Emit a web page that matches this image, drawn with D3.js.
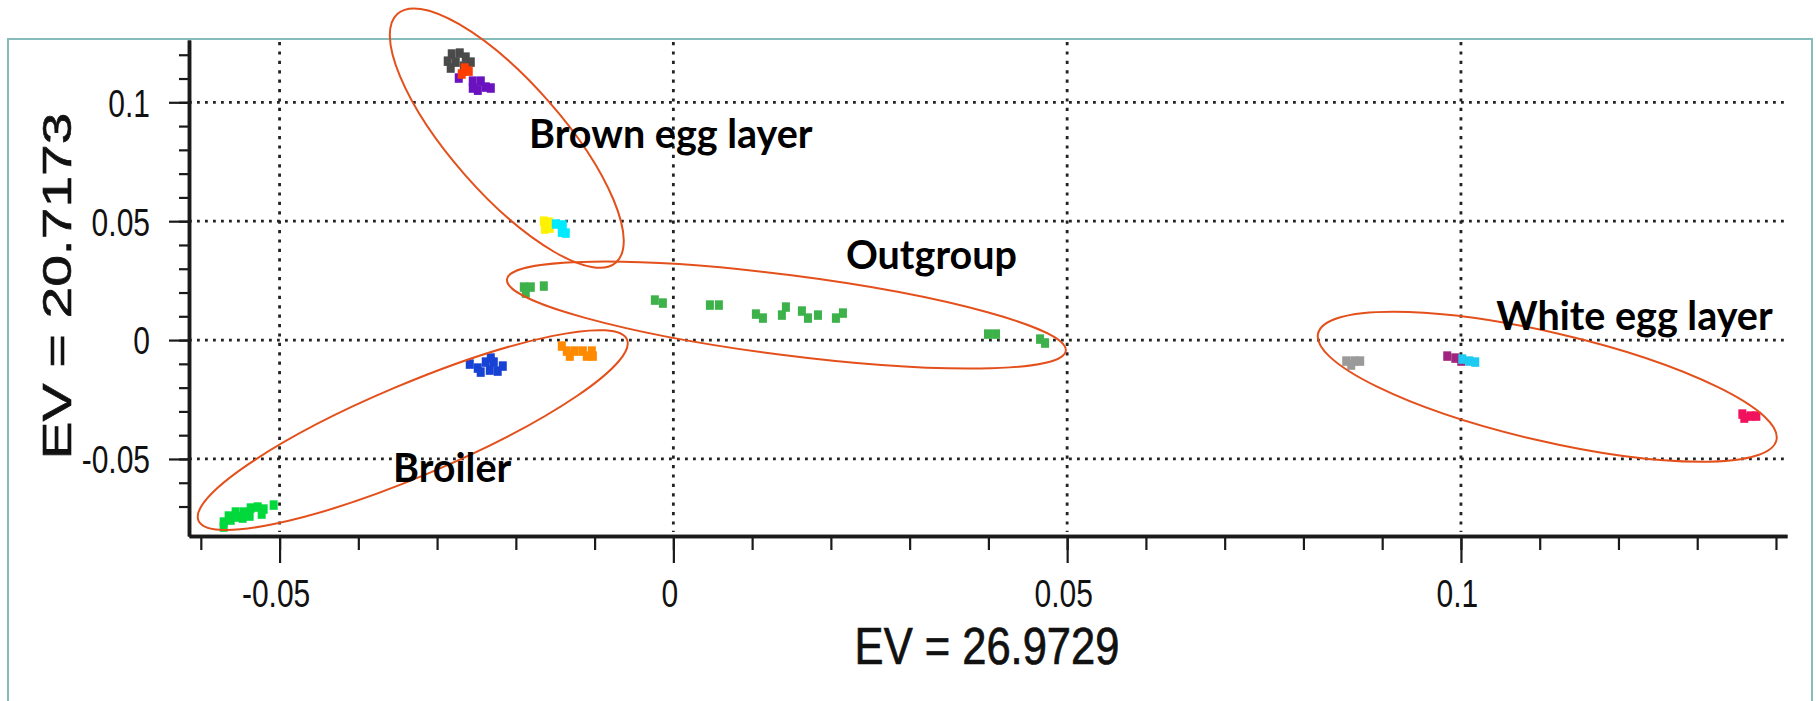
<!DOCTYPE html>
<html>
<head>
<meta charset="utf-8">
<script src="https://cdn.jsdelivr.net/npm/d3@7"></script>
<style>
  body { margin: 0; background: #fff; }
  svg { display: block; }
  .tick-label { font-family: "Liberation Sans", Arial, sans-serif; font-size: 30px; fill: #111; }
  .axis-title { font-family: "Liberation Sans", Arial, sans-serif; fill: #111; stroke: #111; stroke-width: 0.6px; }
  .group-label { font-family: Lato, "Open Sans", sans-serif; font-weight: 700; font-size: 39.5px; fill: #000; }
</style>
</head>
<body>
<div id="chart"></div>
<script>
// PCA coordinates, one array per colour cluster: [EV1, EV2]
const brownDarkGray = [[-0.02814, 0.1203], [-0.02712, 0.1207], [-0.02636, 0.1190], [-0.02865, 0.1173],
  [-0.02763, 0.1169], [-0.02572, 0.1169], [-0.02827, 0.1144], [-0.02661, 0.1152]];
const brownPurple = [[-0.02725, 0.1102], [-0.02547, 0.1089], [-0.02445, 0.1089], [-0.02382, 0.1064],
  [-0.02318, 0.1060], [-0.02483, 0.1051], [-0.02547, 0.1060]];
const brownRed = [[-0.02649, 0.1144], [-0.02598, 0.1131], [-0.02687, 0.1119]];
const brownYellow = [[-0.01645, 0.0500], [-0.01582, 0.0496], [-0.01632, 0.0467], [-0.01569, 0.0471]];
const brownCyan = [[-0.01493, 0.0488], [-0.01404, 0.0484], [-0.01417, 0.0454], [-0.01366, 0.0450]];
const outgroup = [[-0.01899, 0.02229], [-0.01810, 0.02229], [-0.01874, 0.01976], [-0.01645, 0.02271],
  [-0.00235, 0.01682], [-0.00133, 0.01556], [0.00464, 0.01472], [0.00578, 0.01472],
  [0.01048, 0.01093], [0.01137, 0.00925], [0.01429, 0.01388], [0.01378, 0.01051],
  [0.01632, 0.01220], [0.01709, 0.00925], [0.01836, 0.01051], [0.02064, 0.00925],
  [0.02153, 0.01135], [0.03995, 0.00252], [0.04097, 0.00252], [0.04656, 0.00042], [0.04720, -0.00126]];
const broilerOrange = [[-0.01416, -0.00252], [-0.01353, -0.00463], [-0.01251, -0.00463], [-0.01149, -0.00463],
  [-0.01035, -0.00463], [-0.01315, -0.00673], [-0.01099, -0.00673], [-0.01022, -0.00673]];
const broilerBlue = [[-0.02585, -0.01009], [-0.02484, -0.01177], [-0.02382, -0.00925], [-0.02280, -0.00925],
  [-0.02166, -0.01093], [-0.02331, -0.01262], [-0.02446, -0.01346], [-0.02230, -0.01304], [-0.02318, -0.00757]];
const broilerGreen = [[-0.05710, -0.07654], [-0.05621, -0.07569], [-0.05533, -0.07443], [-0.05647, -0.07401],
  [-0.05558, -0.07233], [-0.05456, -0.07233], [-0.05367, -0.07065], [-0.05278, -0.07023],
  [-0.05202, -0.07107], [-0.05227, -0.07317], [-0.05380, -0.07401], [-0.05469, -0.07485],
  [-0.05710, -0.07864], [-0.05075, -0.06939]];
const whiteGray = [[0.08543, -0.00883], [0.08645, -0.00883], [0.08721, -0.00883], [0.08607, -0.01051]];
const whiteMagenta = [[0.09826, -0.00673], [0.09928, -0.00757], [0.10004, -0.00883]];
const whiteBlue = [[0.10017, -0.00799], [0.10106, -0.00883], [0.10182, -0.00925]];
const whiteCrimson = [[0.13573, -0.03112], [0.13675, -0.03196], [0.13751, -0.03196], [0.13598, -0.03280]];

const clusters = [
  { points: outgroup, color: '#3db24b' },
  { points: brownDarkGray, color: '#4a4a4a' },
  { points: brownPurple, color: '#6a12c0' },
  { points: brownRed, color: '#ff3d00' },
  { points: brownYellow, color: '#fff200' },
  { points: brownCyan, color: '#00eaff' },
  { points: broilerOrange, color: '#ff8a00' },
  { points: broilerBlue, color: '#1742d4' },
  { points: broilerGreen, color: '#00d83c' },
  { points: whiteGray, color: '#9a9a9a' },
  { points: whiteMagenta, color: '#a0257e' },
  { points: whiteBlue, color: '#1ccaf2' },
  { points: whiteCrimson, color: '#f0125c' }
];

// tick values
const xMajor = [-0.05, 0, 0.05, 0.1];
const yMajor = [-0.05, 0, 0.05, 0.1];
const xMinor = [-0.06, -0.05, -0.04, -0.03, -0.02, -0.01, 0, 0.01, 0.02, 0.03, 0.04, 0.05,
  0.06, 0.07, 0.08, 0.09, 0.1, 0.11, 0.12, 0.13, 0.14];
const yMinor = [-0.07, -0.06, -0.05, -0.04, -0.03, -0.02, -0.01, 0, 0.01, 0.02, 0.03, 0.04,
  0.05, 0.06, 0.07, 0.08, 0.09, 0.1, 0.11, 0.12];

// group annotations: ellipse centre in data units, radii in px, rotation in degrees
const groupEllipses = [
  { cx: -0.02115, cy: 0.08495, rx: 165.5, ry: 55.7, angle: 48.7 },
  { cx: 0.01435, cy: 0.01051, rx: 281.7, ry: 40.1, angle: 7.3 },
  { cx: -0.03309, cy: -0.03785, rx: 232.6, ry: 46, angle: -22.9 },
  { cx: 0.11096, cy: -0.01964, rx: 235.3, ry: 54.2, angle: 13.1 }
];
const groupLabels = [
  { text: 'Brown egg layer', x: -0.01832, y: 0.08061 },
  { text: 'Outgroup', x: 0.02191, y: 0.02973 },
  { text: 'Broiler', x: -0.03559, y: -0.05959 },
  { text: 'White egg layer', x: 0.10448, y: 0.00421 }
];

const width = 1816, height = 701;
const svg = d3.select('#chart').append('svg')
  .attr('width', width)
  .attr('height', height);

// outer panel frame
svg.append('rect')
  .attr('x', 8).attr('y', 39)
  .attr('width', 1804).attr('height', 700)
  .attr('fill', '#fff')
  .attr('stroke', '#86bcbc')
  .attr('stroke-width', 2);

const x = d3.scaleLinear().domain([-0.0615, 0.1414]).range([189, 1787]);
const y = d3.scaleLinear().domain([-0.0824, 0.1262]).range([536, 40]);

// dotted grid
svg.append('g').selectAll('line')
  .data(yMajor)
  .enter().append('line')
    .attr('x1', x.range()[0]).attr('x2', x.range()[1])
    .attr('y1', d => y(d)).attr('y2', d => y(d))
    .attr('stroke', '#222')
    .attr('stroke-width', 2.8)
    .attr('stroke-dasharray', '2.8,5.2');

svg.append('g').selectAll('line')
  .data(xMajor)
  .enter().append('line')
    .attr('x1', d => x(d)).attr('x2', d => x(d))
    .attr('y1', y.range()[1] + 2).attr('y2', y.range()[0] - 4)
    .attr('stroke', '#222')
    .attr('stroke-width', 2.8)
    .attr('stroke-dasharray', '3.2,6.2');

const fmt = d => String(+d.toFixed(2));

// axes: minor ticks first, then labelled major ticks
const xAxisG = svg.append('g').attr('transform', `translate(0,${y.range()[0]})`);
xAxisG.append('g')
  .call(d3.axisBottom(x).tickValues(xMinor).tickSize(14).tickSizeOuter(0).tickFormat(''));
xAxisG.append('g')
  .call(d3.axisBottom(x).tickValues(xMajor).tickSize(27).tickSizeOuter(0).tickFormat(fmt));

const yAxisG = svg.append('g').attr('transform', `translate(${x.range()[0]},0)`);
yAxisG.append('g')
  .call(d3.axisLeft(y).tickValues(yMinor).tickSize(10).tickSizeOuter(0).tickFormat(''));
yAxisG.append('g')
  .call(d3.axisLeft(y).tickValues(yMajor).tickSize(20).tickSizeOuter(0).tickFormat(fmt));

svg.selectAll('.domain').attr('stroke', '#1a1a1a').attr('stroke-width', 3.5);
svg.selectAll('.tick line').attr('stroke', '#1a1a1a').attr('stroke-width', 2.2);

xAxisG.selectAll('.tick text')
  .attr('class', 'tick-label')
  .attr('y', 0).attr('dy', null)
  .attr('text-anchor', 'middle')
  .attr('transform', 'translate(-4,71) scale(1,1.3)');

yAxisG.selectAll('.tick text')
  .attr('class', 'tick-label')
  .attr('x', 0).attr('dy', null)
  .attr('y', 10.7)
  .attr('text-anchor', 'end')
  .attr('transform', 'translate(-39,0) scale(1,1.3)');

// axis titles
svg.append('text')
  .attr('class', 'axis-title')
  .style('font-size', '43.5px')
  .attr('text-anchor', 'middle')
  .attr('transform', 'translate(987,664) scale(1,1.19)')
  .text('EV = 26.9729');

svg.append('text')
  .attr('class', 'axis-title')
  .style('font-size', '41px')
  .attr('text-anchor', 'middle')
  .attr('transform', 'translate(71,286) scale(1,1.39) rotate(-90)')
  .text('EV = 20.7173');

// sample markers
const markW = 8, markH = 9.5;
clusters.forEach(c => {
  svg.append('g').selectAll('rect')
    .data(c.points)
    .enter().append('rect')
      .attr('x', d => x(d[0]) - markW / 2)
      .attr('y', d => y(d[1]) - markH / 2)
      .attr('width', markW)
      .attr('height', markH)
      .attr('fill', c.color);
});

// group ellipses and their labels
svg.append('g').selectAll('ellipse')
  .data(groupEllipses)
  .enter().append('ellipse')
    .attr('transform', d => `translate(${x(d.cx)},${y(d.cy)}) rotate(${d.angle})`)
    .attr('rx', d => d.rx)
    .attr('ry', d => d.ry)
    .attr('fill', 'none')
    .attr('stroke', '#e4501c')
    .attr('stroke-width', 2);

svg.append('g').selectAll('text')
  .data(groupLabels)
  .enter().append('text')
    .attr('class', 'group-label')
    .attr('x', d => x(d.x))
    .attr('y', d => y(d.y))
    .text(d => d.text);
</script>
</body>
</html>
